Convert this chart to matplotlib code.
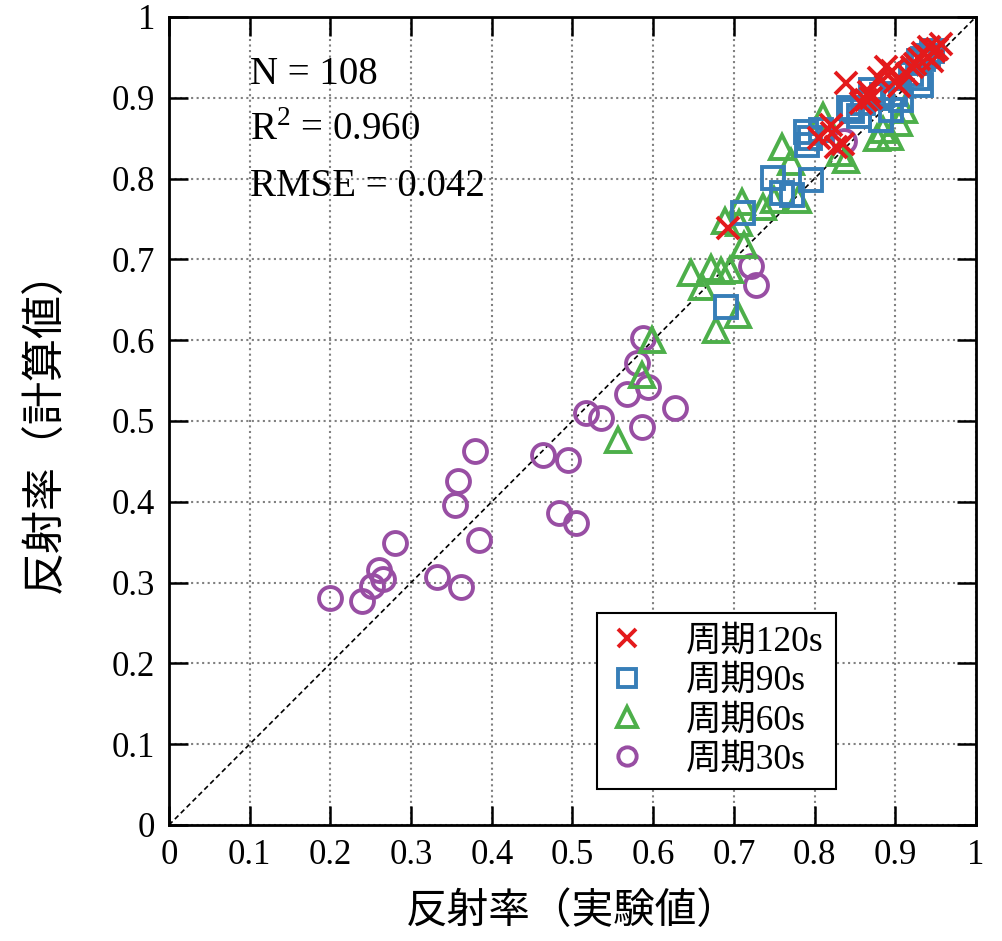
import numpy as np
import matplotlib.pyplot as plt

plt.rcParams['font.family'] = ['Liberation Serif', 'Noto Sans CJK JP']
plt.rcParams['mathtext.fontset'] = 'custom'
plt.rcParams['mathtext.rm'] = 'Liberation Serif'

# 周期120s
x120 = [0.693, 0.806, 0.820, 0.827, 0.822, 0.835, 0.839, 0.858, 0.864, 0.870, 0.868, 0.888, 0.896, 0.905,
        0.900, 0.915, 0.921, 0.930, 0.934, 0.942, 0.948, 0.957, 0.952, 0.940, 0.945, 0.925, 0.880]
y120 = [0.739, 0.850, 0.866, 0.839, 0.856, 0.843, 0.918, 0.893, 0.897, 0.900, 0.907, 0.938, 0.933, 0.914,
        0.920, 0.930, 0.938, 0.948, 0.955, 0.963, 0.958, 0.967, 0.960, 0.950, 0.946, 0.942, 0.925]
# 周期90s
x90 = [0.690, 0.711, 0.748, 0.760, 0.772, 0.796, 0.791, 0.794, 0.790, 0.808, 0.843, 0.847, 0.860, 0.870,
       0.884, 0.907, 0.882, 0.895, 0.932, 0.928, 0.930, 0.935, 0.940, 0.945, 0.920, 0.900, 0.855]
y90 = [0.641, 0.757, 0.801, 0.782, 0.780, 0.798, 0.842, 0.850, 0.858, 0.860, 0.887, 0.883, 0.893, 0.910,
       0.903, 0.897, 0.873, 0.885, 0.916, 0.925, 0.945, 0.948, 0.952, 0.958, 0.930, 0.905, 0.878]
# 周期60s
x60 = [0.556, 0.586, 0.598, 0.647, 0.661, 0.672, 0.684, 0.695, 0.678, 0.705, 0.689, 0.707, 0.713, 0.710,
       0.736, 0.750, 0.760, 0.771, 0.779, 0.810, 0.831, 0.839, 0.878, 0.893, 0.885, 0.905, 0.911]
y60 = [0.476, 0.557, 0.600, 0.683, 0.666, 0.689, 0.685, 0.687, 0.613, 0.631, 0.747, 0.745, 0.718, 0.771,
       0.765, 0.773, 0.839, 0.821, 0.774, 0.877, 0.832, 0.823, 0.850, 0.852, 0.860, 0.869, 0.885]
# 周期30s
x30 = [0.200, 0.239, 0.252, 0.260, 0.265, 0.280, 0.332, 0.362, 0.355, 0.358, 0.379, 0.384, 0.463, 0.494,
       0.483, 0.504, 0.517, 0.535, 0.567, 0.580, 0.588, 0.594, 0.586, 0.627, 0.721, 0.727, 0.837]
y30 = [0.281, 0.277, 0.296, 0.316, 0.304, 0.349, 0.307, 0.295, 0.396, 0.426, 0.463, 0.353, 0.458, 0.452,
       0.386, 0.374, 0.510, 0.504, 0.533, 0.572, 0.603, 0.542, 0.492, 0.516, 0.692, 0.668, 0.846]

ticks = np.arange(0, 1.01, 0.1)
tick_labels = ['0', '0.1', '0.2', '0.3', '0.4', '0.5', '0.6', '0.7', '0.8', '0.9', '1']

fig = plt.figure(figsize=(10.03, 9.41), dpi=100)
ax = fig.add_axes([0.1685, 0.1233, 0.8045, 0.8587])

# 散布図（白抜きマーカー）
ax.plot(x30, y30, 'o', ms=16.5, mfc='none', mec='#984ea3', mew=2.8, label='周期30s', zorder=3)
ax.plot(x60, y60, '^', ms=17.5, mfc='none', mec='#4daf4a', mew=2.8, label='周期60s', zorder=3)
ax.plot(x90, y90, 's', ms=16, mfc='none', mec='#377eb8', mew=2.8, label='周期90s', zorder=3)
ax.plot(x120, y120, 'x', ms=15.5, mec='#e41a1c', mew=2.8, label='周期120s', zorder=4)

# 1:1線
ax.plot([0, 1], [0, 1], color='black', ls=(0, (3, 2)), lw=1.2, zorder=2)

ax.set_xlim(0, 1)
ax.set_ylim(0, 1)
ax.set_xticks(ticks)
ax.set_yticks(ticks)
ax.set_xticklabels(tick_labels)
ax.set_yticklabels(tick_labels)
ax.tick_params(direction='in', length=14, width=1.8, labelsize=25, top=True, right=True, pad=10)
ax.grid(True, ls=':', color='gray', lw=1.5)
for s in ax.spines.values():
    s.set_linewidth(2)

ax.set_xlabel('反射率（実験値）', fontsize=30, family=['Noto Sans CJK JP'], labelpad=14)
ax.set_ylabel('反射率（計算値）', fontsize=31, family=['Noto Sans CJK JP'], labelpad=32)

ax.text(0.10, 0.929, 'N = 108', fontsize=28, va='center')
ax.text(0.10, 0.860, 'R$^2$ = 0.960', fontsize=28, va='center')
ax.text(0.10, 0.790, 'RMSE = 0.042', fontsize=28, va='center')

handles, labels = ax.get_legend_handles_labels()
leg = ax.legend(handles[::-1], labels[::-1], loc='upper left', bbox_to_anchor=(0.531, 0.262),
                borderaxespad=0, fontsize=25.5, frameon=True, fancybox=False, edgecolor='black',
                framealpha=1, markerscale=0.8, handlelength=0.95, handletextpad=1.2,
                labelspacing=0.18, borderpad=0.35)
leg.get_frame().set_linewidth(1.5)

fig.savefig('out.png', dpi=100)
